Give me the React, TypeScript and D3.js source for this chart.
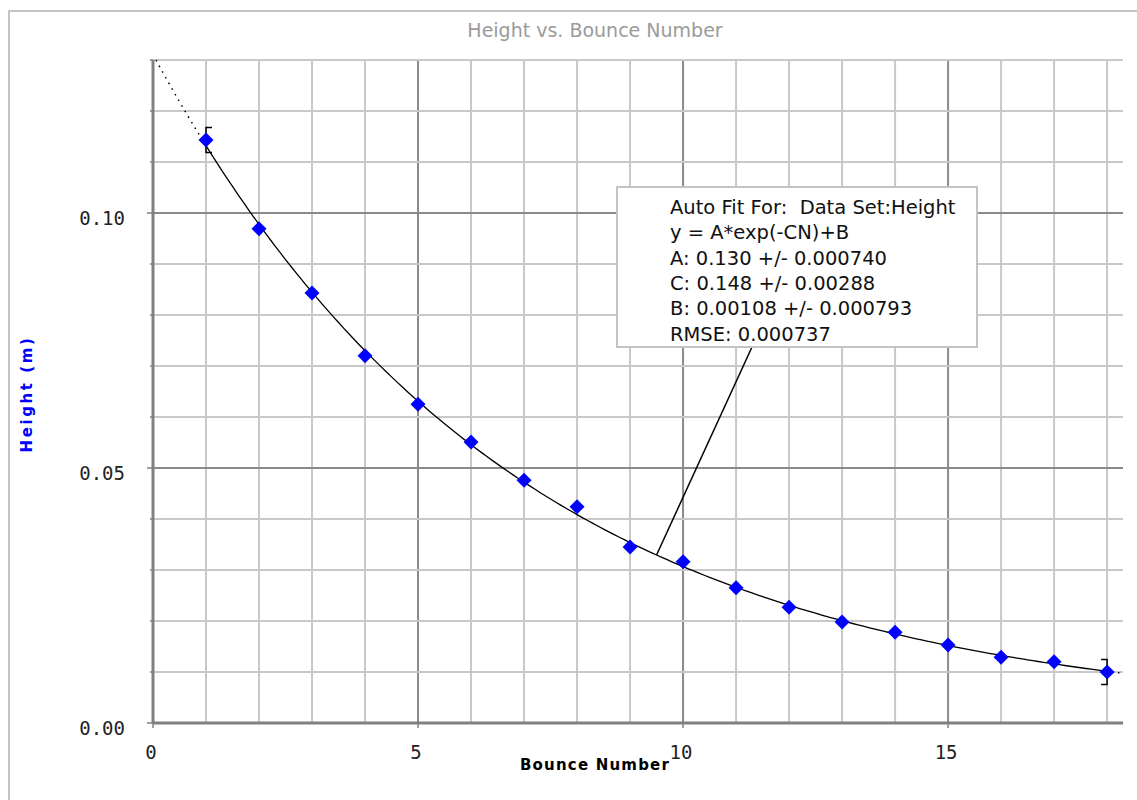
import React from "react";
import * as d3 from "d3";

// bounce data
const bounceNumbers = [1, 2, 3, 4, 5, 6, 7, 8, 9, 10, 11, 12, 13, 14, 15, 16, 17, 18];
const heights = [
  0.1143, 0.0969, 0.0843, 0.072, 0.0625, 0.0551, 0.0476, 0.0424, 0.0345,
  0.0316, 0.0265, 0.0227, 0.0198, 0.0178, 0.0153, 0.0129, 0.012, 0.01,
];
// error bars only shown on first and last point
const errorBars = [
  { n: 1, err: 0.00245, side: 1 },
  { n: 18, err: 0.00245, side: -1 },
];

const xTicks = [0, 5, 10, 15];
const yTicks = [0, 0.05, 0.1];
const xMinor = d3.range(0, 19);
const yMinor = d3.range(0, 14).map((i) => i / 100);

// fit parameters from the auto fit box
const fitA = 0.13;
const fitC = 0.148;
const fitB = 0.00108;
const fitLines = [
  "Auto Fit For:  Data Set:Height",
  "y = A*exp(-CN)+B",
  "A: 0.130 +/- 0.000740",
  "C: 0.148 +/- 0.00288",
  "B: 0.00108 +/- 0.000793",
  "RMSE: 0.000737",
];
const annotationN = 9.5;

const W = 1137, H = 800;
const margin = { top: 60, right: 14, bottom: 77, left: 153 };

export default function App() {
  const x = d3.scaleLinear().domain([0, 18.3]).range([margin.left, W - margin.right]);
  const y = d3.scaleLinear().domain([0, 0.13]).range([H - margin.bottom, margin.top]);

  const fit = (n: number) => fitA * Math.exp(-fitC * n) + fitB;
  const curve = d3.line<number>().x((n) => x(n)).y((n) => y(fit(n)));
  const n0 = Math.log(fitA / (0.13 - fitB)) / fitC;
  const before = d3.range(n0, 1.0001, 0.05);
  const main = d3.range(1, 18.0001, 0.1);
  const after = d3.range(18, 18.3, 0.05);

  const diamond = "M0,-7.5L7.5,0L0,7.5L-7.5,0Z";
  const left = x.range()[0], right = x.range()[1];
  const top = y.range()[1], bottom = y.range()[0];

  const boxX = 617, boxY = 187, boxW = 360, boxH = 160;

  return (
    <svg width={W} height={H} style={{ position: "absolute", left: 0, top: 0, background: "#fff" }}>
      <rect x={9} y={11} width={1140} height={800} fill="none" stroke="#c4c4c4" strokeWidth={2} />
      <text x={595} y={37} textAnchor="middle" fontFamily="DejaVu Sans" fontSize={19} fill="#9a9a9a">
        Height vs. Bounce Number
      </text>

      {/* grid */}
      {xMinor.map((v) => (
        <line key={"gx" + v} x1={x(v)} x2={x(v)} y1={top} y2={bottom}
          stroke={v % 5 === 0 ? "#8a8a8a" : "#c8c8c8"} strokeWidth={2} />
      ))}
      {yMinor.map((v, i) => (
        <line key={"gy" + i} x1={left} x2={right} y1={y(v)} y2={y(v)}
          stroke={i % 5 === 0 ? "#8a8a8a" : "#c8c8c8"} strokeWidth={2} />
      ))}

      {/* axes */}
      <line x1={left} x2={left} y1={top} y2={bottom + 1} stroke="#808080" strokeWidth={3} />
      <line x1={left} x2={right} y1={bottom} y2={bottom} stroke="#808080" strokeWidth={3} />
      {yMinor.map((v, i) => (
        <line key={"ty" + i} x1={left - (i % 5 === 0 ? 6 : 3)} x2={left} y1={y(v)} y2={y(v)}
          stroke="#808080" strokeWidth={1.5} />
      ))}
      {xTicks.map((v) => (
        <line key={"tx" + v} x1={x(v)} x2={x(v)} y1={bottom} y2={bottom + 5} stroke="#808080" strokeWidth={1.5} />
      ))}
      {yTicks.map((v) => (
        <text key={"ly" + v} x={125} y={y(v) + 12} textAnchor="end" fontFamily="DejaVu Sans Mono" fontSize={19} fill="#222">
          {v.toFixed(2)}
        </text>
      ))}
      {xTicks.map((v) => (
        <text key={"lx" + v} x={x(v) - 2} y={bottom + 36} textAnchor="middle" fontFamily="DejaVu Sans Mono" fontSize={19} fill="#222">
          {v}
        </text>
      ))}
      <text x={595} y={770} textAnchor="middle" fontFamily="DejaVu Sans" fontWeight="bold" fontSize={15} letterSpacing={1.2} fill="#000">
        Bounce Number
      </text>
      <text transform="translate(32,394) rotate(-90)" textAnchor="middle" fontFamily="DejaVu Sans" fontWeight="bold" fontSize={15} letterSpacing={2.6} fill="#0000ff">
        Height (m)
      </text>

      {/* fit curve */}
      <path d={curve(before) || ""} fill="none" stroke="#000" strokeWidth={1.5} strokeDasharray="1.5,5" />
      <path d={curve(main) || ""} fill="none" stroke="#000" strokeWidth={1.3} />
      <path d={curve(after) || ""} fill="none" stroke="#000" strokeWidth={1.5} strokeDasharray="1.5,4" />

      {/* error bars */}
      {errorBars.map((e) => {
        const cx = x(e.n), yt = y(heights[e.n - 1] + e.err), yb = y(heights[e.n - 1] - e.err);
        return (
          <path key={"eb" + e.n} d={`M${cx + e.side * 6},${yt}H${cx}V${yb}H${cx + e.side * 6}`}
            fill="none" stroke="#000" strokeWidth={1.5} />
        );
      })}

      {/* points */}
      {bounceNumbers.map((n, i) => (
        <path key={"p" + n} d={diamond} transform={`translate(${x(n)},${y(heights[i])})`} fill="#0000ff" />
      ))}

      {/* annotation */}
      <line x1={752} y1={boxY + boxH} x2={x(annotationN)} y2={y(fit(annotationN))} stroke="#000" strokeWidth={1.5} />
      <rect x={boxX} y={boxY} width={boxW} height={boxH} fill="#fff" stroke="#c4c4c4" strokeWidth={2} />
      {fitLines.map((t, i) => (
        <text key={"f" + i} x={670} y={214 + i * 25.3} fontFamily="DejaVu Sans" fontSize={19.5}
          fill="#111" style={{ whiteSpace: "pre" }}>
          {t}
        </text>
      ))}
    </svg>
  );
}
